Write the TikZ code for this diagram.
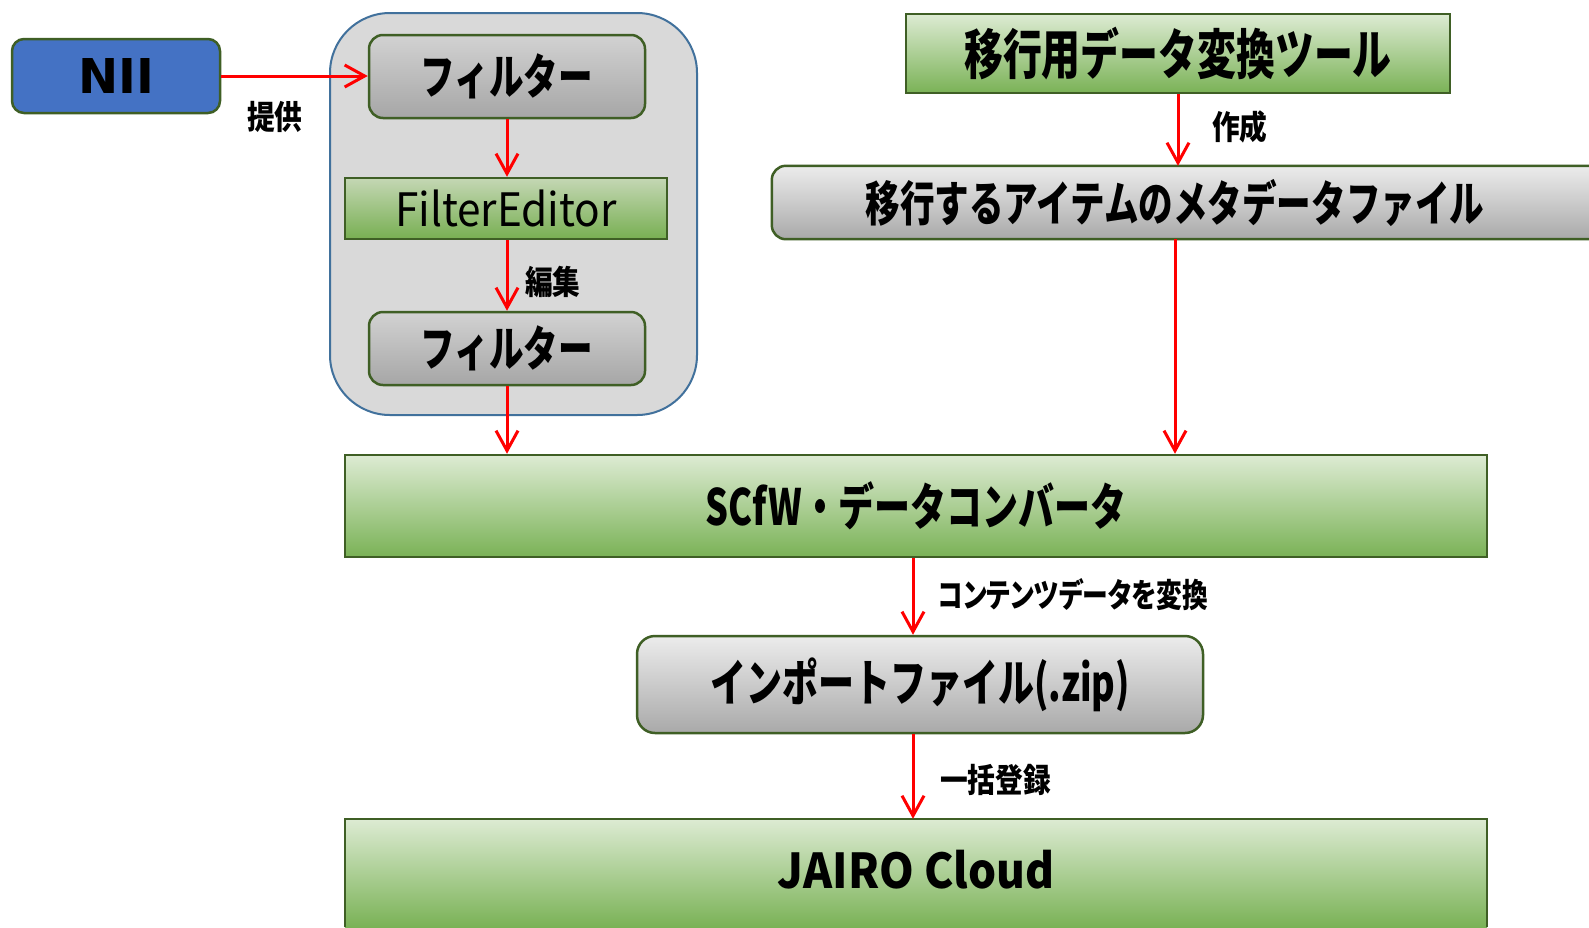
\documentclass[tikz,border=0pt]{standalone}
\usepackage{fontspec}
\usetikzlibrary{arrows.meta}
\newfontfamily\jpfont[FakeStretch=0.72]{Noto Sans CJK JP}
\newfontfamily\jplat[FakeStretch=0.92]{Noto Sans CJK JP}
\newfontfamily\jplab[FakeStretch=0.84,CharacterWidth=AlternateProportional]{Noto Sans CJK JP}
\newfontfamily\jplabn[FakeStretch=0.78,CharacterWidth=AlternateProportional]{Noto Sans CJK JP}
\newfontfamily\niifont{DejaVu Sans}
\definecolor{bordergreen}{HTML}{3F5F25}
\definecolor{contblue}{HTML}{41719C}
\definecolor{contgray}{HTML}{D9D9D9}
\definecolor{niiblue}{HTML}{4472C4}
\definecolor{gtopA}{HTML}{D2D2D2}
\definecolor{gbotA}{HTML}{A6A6A6}
\definecolor{gtopB}{HTML}{ECECEC}
\definecolor{gbotB}{HTML}{A9A9A9}
\definecolor{grtop}{HTML}{DDEBD3}
\definecolor{grbot}{HTML}{7AB256}
\definecolor{fetop}{HTML}{C4D7B4}
\definecolor{febot}{HTML}{78AF52}
\begin{document}
\begin{tikzpicture}[x=1pt,y=-1pt,
  box/.style={draw=bordergreen, line width=2.5pt, inner sep=0pt, text=black},
  graybox/.style={box, rounded corners=14pt, top color=gtopA, bottom color=gbotA},
  lightbox/.style={box, rounded corners=14pt, top color=gtopB, bottom color=gbotB},
  greenbox/.style={box, top color=grtop, bottom color=grbot},
  big/.style={font=\jpfont\bfseries\fontsize{48}{48}\selectfont, inner sep=0pt},
  arr/.style={-{Straight Barb[length=20pt,width=22pt]}, draw=red, line width=3pt},
  lab/.style={font=\jplab\bfseries\fontsize{33}{33}\selectfont, anchor=west, inner sep=0pt}]
\useasboundingbox (0,0) rectangle (1589,927);
\fill[white] (0,0) rectangle (1589,927);

% container
\node[draw=contblue, fill=contgray, line width=2pt, rounded corners=60pt,
      minimum width=367pt, minimum height=402pt] (cont) at (513.5,214) {};

\node[box, rounded corners=12pt, fill=niiblue, minimum width=208pt, minimum height=74pt,
      font=\niifont\bfseries\fontsize{48}{48}\selectfont] (nii) at (116,76) {NII};
\node[graybox, big, minimum width=276pt, minimum height=83pt] (f1) at (507,76.5) {フィルター};
\node[box, top color=fetop, bottom color=febot, minimum width=322pt, minimum height=61pt,
      font=\jplat\fontsize{46}{46}\selectfont] (fe) at (506,208.5) {FilterEditor};
\node[graybox, big, minimum width=276pt, minimum height=73pt] (f2) at (507,348.5) {フィルター};

\node[greenbox, big, font=\jpfont\bfseries\fontsize{54}{54}\selectfont,
      minimum width=544pt, minimum height=79pt] (tool) at (1178,53.5) {移行用データ変換ツール};

% metadata box (runs past the right edge)
\node[inner sep=0pt, minimum width=817pt, minimum height=73pt] (meta) at (1180.5,202.5) {};
\shade[top color=gtopB, bottom color=gbotB]
  (meta.north east) [rounded corners=14pt] -- (meta.north west) -- (meta.south west) [sharp corners] -- (meta.south east) -- cycle;
\draw[draw=bordergreen, line width=2.5pt]
  (meta.north east) [rounded corners=14pt] -- (meta.north west) -- (meta.south west) [sharp corners] -- (meta.south east);
\node[big] (metatext) at (1175,203) {移行するアイテムのメタデータファイル};

\node[greenbox, big, font=\jpfont\bfseries\fontsize{50}{50}\selectfont,
      minimum width=1142pt, minimum height=102pt] (scfw) at (916,506) {SCfW・データコンバータ};
\node[lightbox, big, font=\jpfont\bfseries\fontsize{50}{50}\selectfont, rounded corners=18pt,
      minimum width=566pt, minimum height=97pt] (imp) at (920,684.5) {インポートファイル(.zip)};

% JAIRO Cloud box (runs past the bottom edge)
\node[inner sep=0pt, minimum width=1142pt, minimum height=108pt] (jairo) at (916,873) {};
\shade[top color=grtop, bottom color=grbot]
  (jairo.south west) rectangle (jairo.north east);
\draw[draw=bordergreen, line width=2.5pt]
  (jairo.south west) -- (jairo.north west) -- (jairo.north east) -- (jairo.south east);
\node[font=\jplat\bfseries\fontsize{48}{48}\selectfont, inner sep=0pt] (jairotext) at (916,870) {JAIRO Cloud};

\coordinate (cx) at (913,0);

% arrows
\draw[arr] (nii.east) -- (f1.west |- nii.east);
\draw[arr] (f1.south) -- (f1.south |- fe.north);
\draw[arr] (f1.south |- fe.south) -- (f2.north);
\draw[arr] (f2.south) -- (f2.south |- scfw.north);
\draw[arr] (tool.south) -- (tool.south |- meta.north);
\draw[arr] (metatext.south |- meta.south) -- (metatext.south |- scfw.north);
\draw[arr] (cx |- scfw.south) -- (cx |- imp.north);
\draw[arr] (cx |- imp.south) -- (cx |- jairo.north);

% labels
\node[lab] (l1) at (247,117) {提供};
\node[lab] (l2) at (1212,127) {作成};
\node[lab] (l3) at (525,282) {編集};
\node[lab, font=\jplabn\bfseries\fontsize{33}{33}\selectfont] (l4) at (938,595) {コンテンツデータを変換};
\node[lab] (l5) at (940,780) {一括登録};
\end{tikzpicture}
\end{document}
